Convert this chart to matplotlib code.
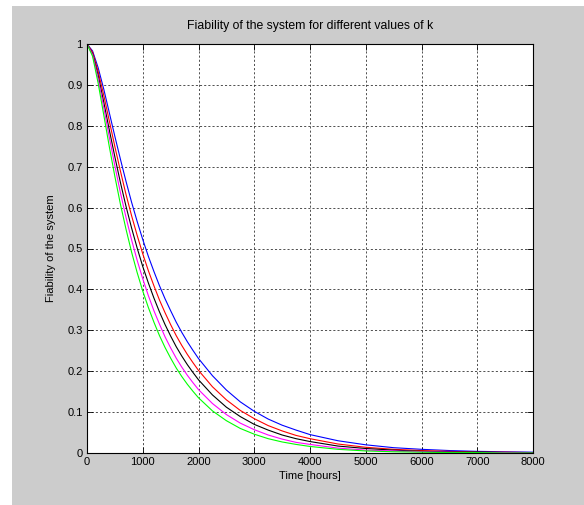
import matplotlib
matplotlib.use("Agg")
import matplotlib.pyplot as plt
from matplotlib.patches import Rectangle

plt.rcParams['font.family'] = ['Liberation Sans', 'DejaVu Sans']

# Time axis (hours) at which values were read
time_h = [0, 100, 200, 300, 400, 500, 600, 700, 800, 900, 1000, 1100, 1200,
          1300, 1400, 1500, 1600, 1700, 1800, 1900, 2000, 2250, 2500, 2750, 3000, 3250,
          3500, 3750, 4000, 4500, 5000, 5500, 6000, 6500, 7000, 7500, 8000]

# Fiability of the system for the different values of k (one series per curve colour)
r_blue = [1.000, 0.983, 0.942, 0.890, 0.832, 0.774, 0.718, 0.664, 0.613, 0.566, 0.522, 0.481, 0.444,
          0.409, 0.377, 0.348, 0.320, 0.295, 0.272, 0.251, 0.231, 0.189, 0.154, 0.125, 0.102, 0.083,
          0.068, 0.056, 0.045, 0.030, 0.020, 0.013, 0.009, 0.006, 0.004, 0.003, 0.002]
r_red = [1.000, 0.980, 0.933, 0.875, 0.812, 0.749, 0.689, 0.632, 0.580, 0.532, 0.487, 0.446, 0.409,
         0.374, 0.343, 0.314, 0.287, 0.263, 0.241, 0.221, 0.202, 0.162, 0.130, 0.104, 0.084, 0.067,
         0.054, 0.043, 0.035, 0.022, 0.014, 0.009, 0.006, 0.004, 0.002, 0.002, 0.001]
r_black = [1.000, 0.976, 0.923, 0.858, 0.790, 0.724, 0.661, 0.603, 0.550, 0.501, 0.456, 0.416, 0.379,
           0.345, 0.314, 0.286, 0.260, 0.237, 0.216, 0.197, 0.179, 0.142, 0.112, 0.089, 0.070, 0.056,
           0.044, 0.035, 0.028, 0.017, 0.011, 0.007, 0.004, 0.003, 0.002, 0.001, 0.001]
r_magenta = [1.000, 0.974, 0.915, 0.845, 0.772, 0.702, 0.636, 0.576, 0.521, 0.471, 0.426, 0.385, 0.348,
             0.315, 0.284, 0.257, 0.232, 0.210, 0.190, 0.172, 0.155, 0.121, 0.094, 0.073, 0.057, 0.044,
             0.034, 0.026, 0.021, 0.012, 0.007, 0.005, 0.003, 0.002, 0.001, 0.001, 0.000]
r_green = [1.000, 0.970, 0.904, 0.827, 0.749, 0.676, 0.608, 0.547, 0.491, 0.441, 0.396, 0.356, 0.320,
           0.287, 0.258, 0.232, 0.208, 0.187, 0.168, 0.151, 0.135, 0.103, 0.079, 0.060, 0.046, 0.035,
           0.027, 0.021, 0.016, 0.009, 0.005, 0.003, 0.002, 0.001, 0.001, 0.000, 0.000]

series = [(r_blue, '#0000ff'), (r_red, '#ff0000'), (r_black, '#000000'),
          (r_magenta, '#ff00ff'), (r_green, '#00ff00')]

x_ticks = [0, 1000, 2000, 3000, 4000, 5000, 6000, 7000, 8000]
y_ticks = [0, 0.1, 0.2, 0.3, 0.4, 0.5, 0.6, 0.7, 0.8, 0.9, 1]
y_tick_labels = ['0', '0.1', '0.2', '0.3', '0.4', '0.5', '0.6', '0.7', '0.8', '0.9', '1']

W, H = 584, 505
fig = plt.figure(figsize=(W / 100, H / 100), dpi=100, facecolor='white')
fig.patches.append(Rectangle((12 / W, 0), 1 - 12 / W, (H - 6) / H,
                             transform=fig.transFigure, facecolor='#cccccc',
                             edgecolor='none', zorder=-10))

ax = fig.add_axes([87 / W, (H - 453) / H, (533 - 87) / W, (453 - 44) / H])
ax.set_facecolor('white')

for r, c in series:
    ax.plot(time_h, r, color=c, linewidth=0.8, solid_joinstyle='round')

ax.set_xlim(0, 8000)
ax.set_ylim(0, 1)
ax.set_xticks(x_ticks)
ax.set_xticklabels([str(v) for v in x_ticks])
ax.set_yticks(y_ticks)
ax.set_yticklabels(y_tick_labels)
ax.tick_params(direction='in', top=True, right=True, length=4, width=0.6,
               labelsize=8, colors='black', pad=3)
ax.grid(True, color='#333333', linestyle=(0, (2.5, 2.5)), linewidth=0.6)
for s in ax.spines.values():
    s.set_color('black')
    s.set_linewidth(0.8)

ax.set_title('Fiability of the system for different values of k', fontsize=8.8, pad=11)
ax.set_xlabel('Time [hours]', fontsize=8, labelpad=3)
ax.set_ylabel('Fiability of the system', fontsize=8, labelpad=8)

fig.savefig('out.png', dpi=100, facecolor=fig.get_facecolor())
